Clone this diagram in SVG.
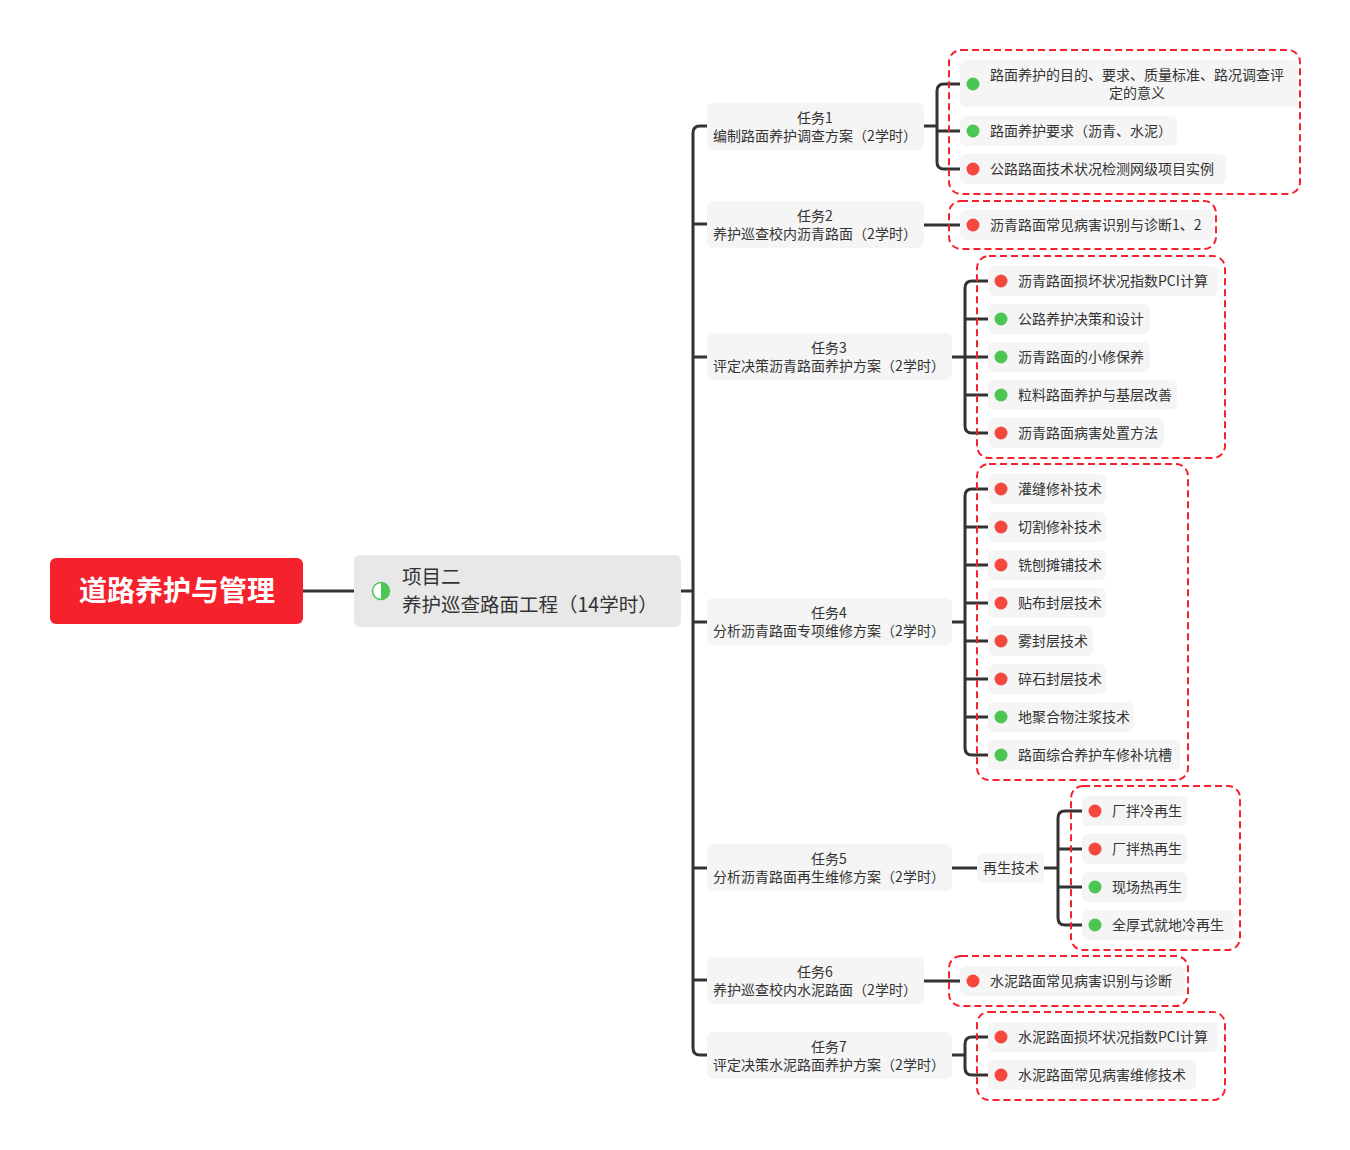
<svg xmlns="http://www.w3.org/2000/svg" width="1350" height="1150" viewBox="0 0 1350 1150">
<style>
text{font-family:"Noto Sans CJK SC","Liberation Sans",sans-serif;fill:#333;}
.t{font-size:14px;text-anchor:middle;}
.l{font-size:14px;}
.box{fill:#f5f5f5;}
.grp{fill:none;stroke:#f5222d;stroke-width:2;stroke-dasharray:7,4;}
.c{fill:none;stroke:#333;stroke-width:3;}
.r{fill:#f5473e;}
.g{fill:#4cc653;}
</style>
<rect width="1350" height="1150" fill="#fff"/>
<g id="connectors">
<path class="c" d="M303,591 L354,591"/>
<path class="c" d="M681,591 L693,591"/>
<path class="c" d="M707,126 L700,126 Q693,126 693,133 L693,1048 Q693,1055 700,1055 L707,1055"/>
<path class="c" d="M693,224 L707,224 M693,357 L707,357 M693,622 L707,622 M693,868 L707,868 M693,980 L707,980"/>
<path class="c" d="M924,126 L937,126 M960,84 L944,84 Q937,84 937,91 L937,162 Q937,169 944,169 L960,169 M937,131 L960,131"/>
<path class="c" d="M924,225 L960,225"/>
<path class="c" d="M952,357 L965,357 M988,281 L972,281 Q965,281 965,288 L965,426 Q965,433 972,433 L988,433 M965,319 L988,319 M965,357 L988,357 M965,395 L988,395"/>
<path class="c" d="M952,622 L965,622 M988,489 L972,489 Q965,489 965,496 L965,748 Q965,755 972,755 L988,755 M965,527 L988,527 M965,565 L988,565 M965,603 L988,603 M965,641 L988,641 M965,679 L988,679 M965,717 L988,717"/>
<path class="c" d="M952,868 L977,868 M1044,868 L1058,868 M1082,811 L1065,811 Q1058,811 1058,818 L1058,918 Q1058,925 1065,925 L1082,925 M1058,849 L1082,849 M1058,887 L1082,887"/>
<path class="c" d="M924,981 L960,981"/>
<path class="c" d="M952,1055 L965,1055 M988,1037 L972,1037 Q965,1037 965,1044 L965,1068 Q965,1075 972,1075 L988,1075"/>
</g>
<g id="root">
<rect x="50" y="558" width="253" height="66" rx="6" fill="#f5222d"/>
<text x="177" y="601" style="font-size:28px;font-weight:bold;fill:#fff;text-anchor:middle">道路养护与管理</text>
</g>
<g id="project">
<rect x="354" y="555" width="327" height="72" rx="6" fill="#e8e8e8"/>
<circle cx="381" cy="591" r="8.5" fill="#fff" stroke="#4cc653" stroke-width="1.5"/>
<path d="M381,582.5 A8.5,8.5 0 0 1 381,599.5 Z" fill="#4cc653"/>
<text x="402" y="584" style="font-size:19.5px">项目二</text>
<text x="402" y="612" style="font-size:19.5px">养护巡查路面工程（14学时）</text>
</g>
<g id="task1"><rect class="box" x="707" y="103" width="217" height="47" rx="6"/><text class="t" x="815" y="123">任务1</text><text class="t" x="815" y="141">编制路面养护调查方案（2学时）</text></g>
<g id="task2"><rect class="box" x="707" y="201" width="217" height="47" rx="6"/><text class="t" x="815" y="221">任务2</text><text class="t" x="815" y="239">养护巡查校内沥青路面（2学时）</text></g>
<g id="task3"><rect class="box" x="707" y="333" width="245" height="47" rx="6"/><text class="t" x="829" y="353">任务3</text><text class="t" x="829" y="371">评定决策沥青路面养护方案（2学时）</text></g>
<g id="task4"><rect class="box" x="707" y="598" width="245" height="47" rx="6"/><text class="t" x="829" y="618">任务4</text><text class="t" x="829" y="636">分析沥青路面专项维修方案（2学时）</text></g>
<g id="task5"><rect class="box" x="707" y="844" width="245" height="47" rx="6"/><text class="t" x="829" y="864">任务5</text><text class="t" x="829" y="882">分析沥青路面再生维修方案（2学时）</text></g>
<g id="task6"><rect class="box" x="707" y="957" width="217" height="47" rx="6"/><text class="t" x="815" y="977">任务6</text><text class="t" x="815" y="995">养护巡查校内水泥路面（2学时）</text></g>
<g id="task7"><rect class="box" x="707" y="1032" width="245" height="47" rx="6"/><text class="t" x="829" y="1052">任务7</text><text class="t" x="829" y="1070">评定决策水泥路面养护方案（2学时）</text></g>
<g id="regen"><rect class="box" x="977" y="853" width="67" height="30" rx="6"/><text class="t" x="1011" y="873">再生技术</text></g>

<g id="group1">
<rect class="grp" x="949" y="50" width="351" height="144" rx="12"/>
<g id="leaf1-1"><rect class="box" x="960" y="60" width="338" height="47" rx="6"/><circle class="g" cx="973" cy="84" r="6.5"/><text class="l" x="1137" y="80" text-anchor="middle">路面养护的目的、要求、质量标准、路况调查评</text><text class="l" x="1137" y="98" text-anchor="middle">定的意义</text></g>
<g id="leaf1-2"><rect class="box" x="960" y="116" width="217" height="30" rx="6"/><circle class="g" cx="973" cy="131" r="6.5"/><text class="l" x="990" y="136">路面养护要求（沥青、水泥）</text></g>
<g id="leaf1-3"><rect class="box" x="960" y="154" width="266" height="30" rx="6"/><circle class="r" cx="973" cy="169" r="6.5"/><text class="l" x="990" y="174">公路路面技术状况检测网级项目实例</text></g>
</g>
<g id="group2">
<rect class="grp" x="949" y="201" width="267" height="48" rx="12"/>
<g id="leaf2-1"><rect class="box" x="960" y="210" width="253" height="30" rx="6"/><circle class="r" cx="973" cy="225" r="6.5"/><text class="l" x="990" y="230">沥青路面常见病害识别与诊断1、2</text></g>
</g>
<g id="group3">
<rect class="grp" x="977" y="256" width="248" height="202" rx="12"/>
<g id="leaf3-1"><rect class="box" x="988" y="266" width="230" height="30" rx="6"/><circle class="r" cx="1001" cy="281" r="6.5"/><text class="l" x="1018" y="286">沥青路面损坏状况指数PCI计算</text></g>
<g id="leaf3-2"><rect class="box" x="988" y="304" width="162" height="30" rx="6"/><circle class="g" cx="1001" cy="319" r="6.5"/><text class="l" x="1018" y="324">公路养护决策和设计</text></g>
<g id="leaf3-3"><rect class="box" x="988" y="342" width="162" height="30" rx="6"/><circle class="g" cx="1001" cy="357" r="6.5"/><text class="l" x="1018" y="362">沥青路面的小修保养</text></g>
<g id="leaf3-4"><rect class="box" x="988" y="380" width="189" height="30" rx="6"/><circle class="g" cx="1001" cy="395" r="6.5"/><text class="l" x="1018" y="400">粒料路面养护与基层改善</text></g>
<g id="leaf3-5"><rect class="box" x="988" y="418" width="176" height="30" rx="6"/><circle class="r" cx="1001" cy="433" r="6.5"/><text class="l" x="1018" y="438">沥青路面病害处置方法</text></g>
</g>
<g id="group4">
<rect class="grp" x="977" y="464" width="211" height="316" rx="12"/>
<g id="leaf4-1"><rect class="box" x="988" y="474" width="118" height="30" rx="6"/><circle class="r" cx="1001" cy="489" r="6.5"/><text class="l" x="1018" y="494">灌缝修补技术</text></g>
<g id="leaf4-2"><rect class="box" x="988" y="512" width="118" height="30" rx="6"/><circle class="r" cx="1001" cy="527" r="6.5"/><text class="l" x="1018" y="532">切割修补技术</text></g>
<g id="leaf4-3"><rect class="box" x="988" y="550" width="118" height="30" rx="6"/><circle class="r" cx="1001" cy="565" r="6.5"/><text class="l" x="1018" y="570">铣刨摊铺技术</text></g>
<g id="leaf4-4"><rect class="box" x="988" y="588" width="118" height="30" rx="6"/><circle class="r" cx="1001" cy="603" r="6.5"/><text class="l" x="1018" y="608">贴布封层技术</text></g>
<g id="leaf4-5"><rect class="box" x="988" y="626" width="105" height="30" rx="6"/><circle class="r" cx="1001" cy="641" r="6.5"/><text class="l" x="1018" y="646">雾封层技术</text></g>
<g id="leaf4-6"><rect class="box" x="988" y="664" width="118" height="30" rx="6"/><circle class="r" cx="1001" cy="679" r="6.5"/><text class="l" x="1018" y="684">碎石封层技术</text></g>
<g id="leaf4-7"><rect class="box" x="988" y="702" width="146" height="30" rx="6"/><circle class="g" cx="1001" cy="717" r="6.5"/><text class="l" x="1018" y="722">地聚合物注浆技术</text></g>
<g id="leaf4-8"><rect class="box" x="988" y="740" width="192" height="30" rx="6"/><circle class="g" cx="1001" cy="755" r="6.5"/><text class="l" x="1018" y="760">路面综合养护车修补坑槽</text></g>
</g>
<g id="group5">
<rect class="grp" x="1071" y="786" width="169" height="164" rx="12"/>
<g id="leaf5-1"><rect class="box" x="1082" y="796" width="105" height="30" rx="6"/><circle class="r" cx="1095" cy="811" r="6.5"/><text class="l" x="1112" y="816">厂拌冷再生</text></g>
<g id="leaf5-2"><rect class="box" x="1082" y="834" width="105" height="30" rx="6"/><circle class="r" cx="1095" cy="849" r="6.5"/><text class="l" x="1112" y="854">厂拌热再生</text></g>
<g id="leaf5-3"><rect class="box" x="1082" y="872" width="105" height="30" rx="6"/><circle class="g" cx="1095" cy="887" r="6.5"/><text class="l" x="1112" y="892">现场热再生</text></g>
<g id="leaf5-4"><rect class="box" x="1082" y="910" width="153" height="30" rx="6"/><circle class="g" cx="1095" cy="925" r="6.5"/><text class="l" x="1112" y="930">全厚式就地冷再生</text></g>
</g>
<g id="group6">
<rect class="grp" x="949" y="956" width="239" height="50" rx="12"/>
<g id="leaf6-1"><rect class="box" x="960" y="966" width="225" height="30" rx="6"/><circle class="r" cx="973" cy="981" r="6.5"/><text class="l" x="990" y="986">水泥路面常见病害识别与诊断</text></g>
</g>
<g id="group7">
<rect class="grp" x="977" y="1012" width="248" height="88" rx="12"/>
<g id="leaf7-1"><rect class="box" x="988" y="1022" width="230" height="30" rx="6"/><circle class="r" cx="1001" cy="1037" r="6.5"/><text class="l" x="1018" y="1042">水泥路面损坏状况指数PCI计算</text></g>
<g id="leaf7-2"><rect class="box" x="988" y="1060" width="208" height="30" rx="6"/><circle class="r" cx="1001" cy="1075" r="6.5"/><text class="l" x="1018" y="1080">水泥路面常见病害维修技术</text></g>
</g>
</svg>
